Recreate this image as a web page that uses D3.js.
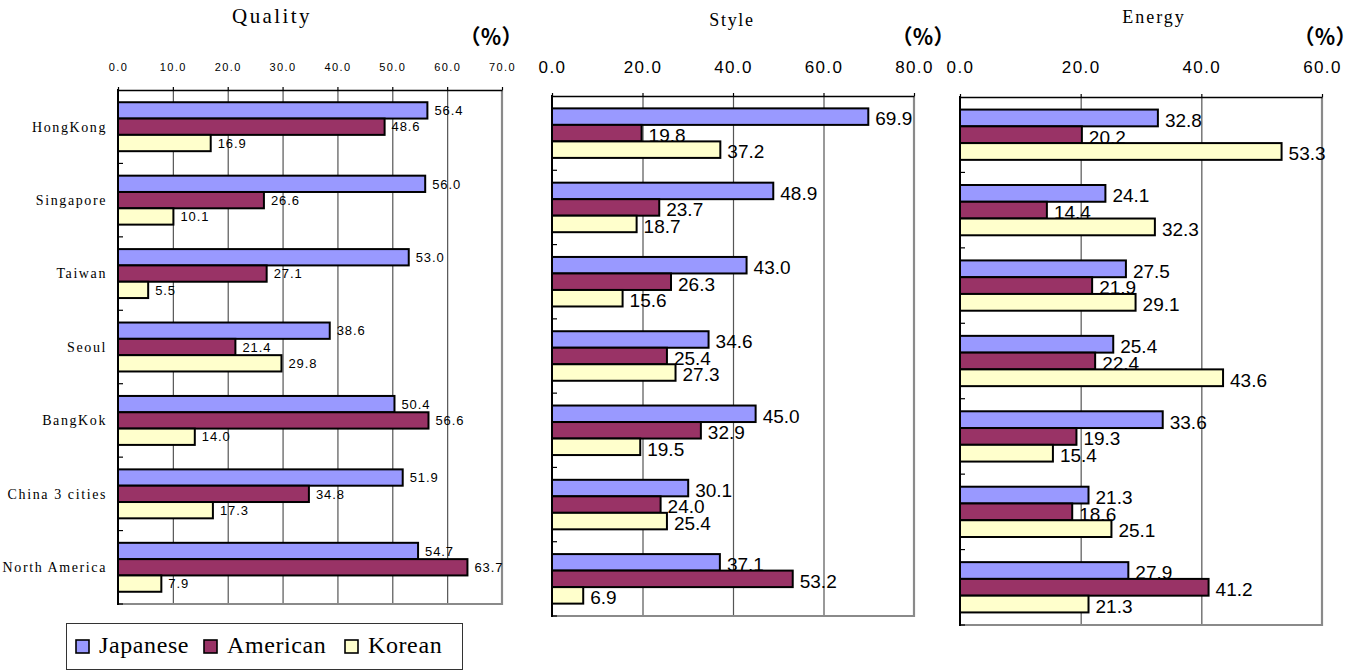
<!DOCTYPE html>
<html><head><meta charset="utf-8">
<script src="https://cdn.jsdelivr.net/npm/d3@7"></script>
<style>body{margin:0;background:#fff}svg{display:block}</style>
</head><body>
<svg id="chart" width="1358" height="670"></svg>
<script>
// ---- data ----
const categories = ["HongKong","Singapore","Taiwan","Seoul","BangKok","China 3 cities","North America"];
const seriesNames = ["Japanese","American","Korean"];
const seriesColors = ["#9999FF","#993366","#FFFFCC"];

const qualityJapanese = [56.4,56.0,53.0,38.6,50.4,51.9,54.7];
const qualityAmerican = [48.6,26.6,27.1,21.4,56.6,34.8,63.7];
const qualityKorean   = [16.9,10.1,5.5,29.8,14.0,17.3,7.9];

const styleJapanese = [69.9,48.9,43.0,34.6,45.0,30.1,37.1];
const styleAmerican = [19.8,23.7,26.3,25.4,32.9,24.0,53.2];
const styleKorean   = [37.2,18.7,15.6,27.3,19.5,25.4,6.9];

const energyJapanese = [32.8,24.1,27.5,25.4,33.6,21.3,27.9];
const energyAmerican = [20.2,14.4,21.9,22.4,19.3,18.6,41.2];
const energyKorean   = [53.3,32.3,29.1,43.6,15.4,25.1,21.3];

const qualityTicks = [0,10,20,30,40,50,60,70];
const styleTicks = [0,20,40,60,80];
const energyTicks = [0,20,40,60];
const unitLabel = "（％）";

// ---- layout ----
const panels = [
  {title:"Quality", series:[qualityJapanese,qualityAmerican,qualityKorean], ticks:qualityTicks,
   x0:118,x1:502,y0:90,y1:604, tickFont:11, tickLS:1.4, tickPad:16, valFont:13, valLS:0.9, valDy:0,
   showCats:true, titleX:272, titleY:23, titleSize:21, titleLS:2.4, pctX:491},
  {title:"Style", series:[styleJapanese,styleAmerican,styleKorean], ticks:styleTicks,
   x0:552,x1:914,y0:96,y1:616, tickFont:17, tickLS:1.4, tickPad:20, valFont:19, valLS:0, valDy:2,
   showCats:false, titleX:732, titleY:26, titleSize:18, titleLS:1.7, pctX:923},
  {title:"Energy", series:[energyJapanese,energyAmerican,energyKorean], ticks:energyTicks,
   x0:960,x1:1322,y0:97,y1:625, tickFont:17, tickLS:1.4, tickPad:21, valFont:19, valLS:0, valDy:2,
   showCats:false, titleX:1154, titleY:23, titleSize:18, titleLS:2, pctX:1325}
];

const svg = d3.select("#chart");
const SERIF = "Liberation Serif, Times New Roman, serif";
const SANS = "Liberation Sans, Arial, sans-serif";

panels.forEach(p => {
  const g = svg.append("g");
  const x = d3.scaleLinear().domain([0, d3.max(p.ticks)]).range([p.x0, p.x1]);
  const y = d3.scaleBand().domain(categories).range([p.y0, p.y1]).paddingInner(1/3).paddingOuter(1/6);
  const ys = d3.scaleBand().domain(seriesNames).range([0, y.bandwidth()]);
  const step = y.step();

  g.append("rect").attr("x",p.x0).attr("y",p.y0).attr("width",p.x1-p.x0).attr("height",p.y1-p.y0).attr("fill","#fff");

  // gridlines
  g.selectAll("line.grid").data(p.ticks.slice(1,-1)).join("line")
    .attr("x1",d=>x(d)+0.5).attr("x2",d=>x(d)+0.5).attr("y1",p.y0).attr("y2",p.y1)
    .attr("stroke","#555").attr("stroke-width",1.2);

  // right + bottom border
  g.append("path").attr("d",`M${p.x1},${p.y0}V${p.y1}H${p.x0}`)
    .attr("fill","none").attr("stroke","#8a8a8a").attr("stroke-width",2.2);

  // bars and labels, series by series
  p.series.forEach((vals, si) => {
    const name = seriesNames[si];
    g.selectAll(null).data(vals).join("rect")
      .attr("x", x(0))
      .attr("y", (d,i) => y(categories[i]) + ys(name))
      .attr("width", d => x(d) - x(0))
      .attr("height", ys.bandwidth())
      .attr("fill", seriesColors[si]).attr("stroke","#000").attr("stroke-width",2);
    g.selectAll(null).data(vals).join("text")
      .attr("x", d => x(d) + 7)
      .attr("y", (d,i) => y(categories[i]) + ys(name) + ys.bandwidth()/2 + p.valDy)
      .attr("dy","0.36em")
      .style("font-family",SANS).attr("font-size",p.valFont).attr("letter-spacing",p.valLS)
      .attr("fill","#000")
      .text(d => d.toFixed(1));
  });

  // top axis with labels
  const axT = g.append("g").attr("transform",`translate(0,${p.y0})`)
    .call(d3.axisTop(x).tickValues(p.ticks).tickFormat(d=>d.toFixed(1)).tickSizeInner(3).tickSizeOuter(0).tickPadding(p.tickPad));
  axT.attr("font-family",null);
  axT.select(".domain").attr("stroke","#000").attr("stroke-width",1.6);
  axT.selectAll(".tick line").attr("stroke","#000").attr("stroke-width",1.2);
  axT.selectAll(".tick text").style("font-family",SANS).attr("font-size",p.tickFont)
    .attr("letter-spacing",p.tickLS).attr("fill","#000");

  // left axis line + boundary ticks
  g.append("line").attr("x1",p.x0).attr("x2",p.x0).attr("y1",p.y0-1).attr("y2",p.y1+1)
    .attr("stroke","#000").attr("stroke-width",2);
  g.selectAll(null).data(categories).join("line")
    .attr("x1",p.x0).attr("x2",p.x0+5)
    .attr("y1",d=>y(d)-step/6+step).attr("y2",d=>y(d)-step/6+step)
    .attr("stroke","#000").attr("stroke-width",1.2);

  if (p.showCats) {
    g.selectAll(null).data(categories).join("text")
      .attr("x", p.x0 - 11)
      .attr("y", d => y(d) + y.bandwidth()/2)
      .attr("dy","0.35em").attr("text-anchor","end")
      .style("font-family",SERIF).attr("font-size",14).attr("letter-spacing",1.6)
      .attr("fill","#000").text(d=>d);
  }

  // title
  g.append("text").attr("x",p.titleX).attr("y",p.titleY).attr("text-anchor","middle")
    .style("font-family",SERIF).attr("font-size",p.titleSize).attr("letter-spacing",p.titleLS)
    .attr("fill","#000").text(p.title);
  // unit
  g.append("text").attr("x",p.pctX).attr("y",36).attr("dy","0.36em").attr("text-anchor","middle")
    .style("font-family","Noto Sans CJK JP, sans-serif").attr("font-size",21).attr("font-weight","bold")
    .attr("fill","#000").text(unitLabel);
});

// ---- legend ----
const lg = svg.append("g");
lg.append("rect").attr("x",66.5).attr("y",623.5).attr("width",396).attr("height",46)
  .attr("fill","#fff").attr("stroke","#333").attr("stroke-width",1);
const legX = [76, 204, 345];
seriesNames.forEach((name, i) => {
  lg.append("rect").attr("x",legX[i]).attr("y",640).attr("width",13).attr("height",13)
    .attr("fill",seriesColors[i]).attr("stroke","#000").attr("stroke-width",1.6);
  lg.append("text").attr("x",legX[i]+23).attr("y",653)
    .style("font-family",SERIF).attr("font-size",24).attr("letter-spacing",0.6)
    .attr("fill","#000").text(name);
});
</script>
</body></html>
